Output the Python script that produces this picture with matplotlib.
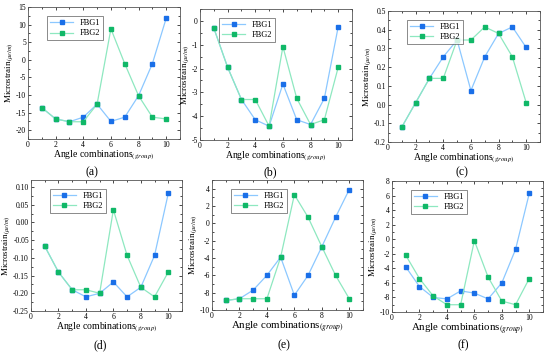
import matplotlib.pyplot as plt
from matplotlib.ticker import AutoMinorLocator

plt.rcParams['font.family'] = ['Liberation Serif', 'DejaVu Serif']
plt.rcParams['mathtext.fontset'] = 'stix'
plt.rcParams['axes.unicode_minus'] = False

groups = [1, 2, 3, 4, 5, 6, 7, 8, 9, 10]

a_fbg1 = [-13.6, -16.8, -17.6, -16.3, -12.6, -17.5, -16.3, -10.2, -1.1, 11.8]
a_fbg2 = [-13.6, -16.8, -17.6, -17.6, -12.6, 8.8, -1.1, -10.2, -16.3, -16.8]
b_fbg1 = [-0.3, -1.95, -3.3, -4.15, -4.42, -2.65, -4.15, -4.35, -3.25, -0.25]
b_fbg2 = [-0.3, -1.95, -3.3, -3.3, -4.42, -1.08, -3.25, -4.35, -4.15, -1.95]
c_fbg1 = [-0.12, 0.01, 0.14, 0.255, 0.345, 0.075, 0.255, 0.38, 0.415, 0.305]
c_fbg2 = [-0.12, 0.01, 0.14, 0.14, 0.345, 0.345, 0.415, 0.38, 0.255, 0.01]
d_fbg1 = [-0.067, -0.14, -0.19, -0.21, -0.2, -0.168, -0.21, -0.183, -0.093, 0.082]
d_fbg2 = [-0.067, -0.14, -0.19, -0.19, -0.2, 0.036, -0.093, -0.183, -0.21, -0.14]
e_fbg1 = [-8.9, -8.7, -7.7, -6.0, -3.9, -8.3, -6.0, -2.7, 0.7, 3.9]
e_fbg2 = [-8.9, -8.7, -8.7, -8.7, -3.9, 3.3, 0.7, -2.7, -6.0, -8.7]
f_fbg1 = [-3.8, -6.5, -8.0, -8.2, -7.1, -7.4, -8.2, -6.0, -1.4, 6.3]
f_fbg2 = [-2.2, -5.4, -7.8, -9.0, -9.0, -0.2, -5.2, -8.5, -9.0, -5.4]

# name, series, ylim, yticks, axes box (px: left, top, w, h), name pos (px), xlabel size
panels = [
    ('(a)', a_fbg1, a_fbg2, (-22.5, 15), [-20, -15, -10, -5, 0, 5, 10, 15], [28, 7, 152, 132], (92, 172), 7),
    ('(b)', b_fbg1, b_fbg2, (-5, 0.5), [-5, -4, -3, -2, -1, 0], [200, 9, 152, 131], (270, 172), 7),
    ('(c)', c_fbg1, c_fbg2, (-0.2, 0.5), [-0.2, -0.1, 0.0, 0.1, 0.2, 0.3, 0.4, 0.5], [388, 11, 152, 131], (462, 172), 7),
    ('(d)', d_fbg1, d_fbg2, (-0.25, 0.12), [-0.25, -0.2, -0.15, -0.1, -0.05, 0.0, 0.05, 0.1], [31, 180, 151, 131], (100, 345), 7),
    ('(e)', e_fbg1, e_fbg2, (-10, 5), [-10, -8, -6, -4, -2, 0, 2, 4], [212, 180, 151, 130], (284, 345), 7.8),
    ('(f)', f_fbg1, f_fbg2, (-10, 8), [-10, -8, -6, -4, -2, 0, 2, 4, 6, 8], [392, 181, 151, 131], (463, 345), 7.8),
]

W, H = 550, 355
fig = plt.figure(figsize=(5.5, 3.55), dpi=100)

for name, s1, s2, ylim, yt, box, npos, xls in panels:
    x0, y0, w, h = box
    ax = fig.add_axes([x0 / W, 1 - (y0 + h) / H, w / W, h / H])
    ax.plot(groups, s1, color='#8cc8ff', lw=0.9, marker='s', ms=2.8,
            mfc='#1a6fe8', mec='#1a6fe8', label='FBG1')
    ax.plot(groups, s2, color='#8ee8c0', lw=0.9, marker='s', ms=2.8,
            mfc='#10b868', mec='#10b868', label='FBG2')
    ax.set_xlim(0, 11)
    ax.set_xticks([0, 2, 4, 6, 8, 10])
    ax.set_ylim(*ylim)
    ax.set_yticks(yt)
    ax.xaxis.set_minor_locator(AutoMinorLocator(2))
    ax.yaxis.set_minor_locator(AutoMinorLocator(2))
    ax.tick_params(which='both', direction='in', top=True, right=True, labelsize=5.5, pad=1.5)
    ax.tick_params(which='major', length=2.5, width=0.5)
    ax.tick_params(which='minor', length=1.5, width=0.5)
    for sp in ax.spines.values():
        sp.set_linewidth(0.6)
        sp.set_color('#555555')
    ax.set_xlabel(r'Angle combinations$_{(group)}$', fontsize=xls, labelpad=0)
    ax.set_ylabel(r'Microstrain$_{(\mu\varepsilon/m)}$', fontsize=6.5, labelpad=0)
    leg = ax.legend(loc='upper left', bbox_to_anchor=(0.1, 0.96), fontsize=6,
                    frameon=True, fancybox=False, edgecolor='#333333',
                    handlelength=2.8, borderpad=0.3, labelspacing=0.3)
    leg.get_frame().set_linewidth(0.5)
    fig.text(npos[0] / W, 1 - npos[1] / H, name, ha='center', va='center', fontsize=8.5)

fig.savefig('out.png', dpi=100)
